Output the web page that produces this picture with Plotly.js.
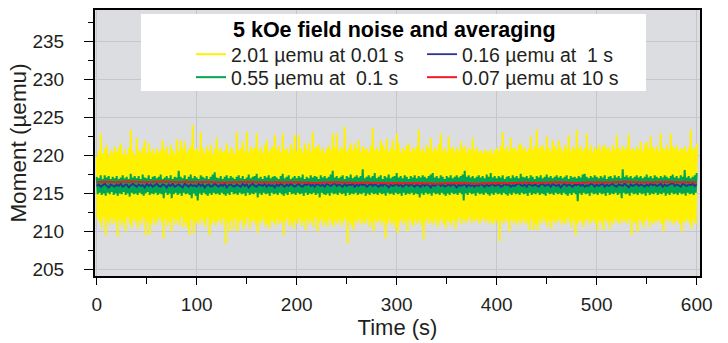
<!DOCTYPE html>
<html>
<head>
<meta charset="utf-8">
<script src="https://cdn.plot.ly/plotly-3.0.1.min.js"></script>
<style>html,body{margin:0;padding:0;background:#fff;}#chart{width:728px;height:343px;}</style>
</head>
<body>
<div id="chart"></div>
<script>
// ---- data ----
// Yellow (0.01 s sampling): per-column upper extremes at t = 0,2,...,600 s
const yellowHigh = [
219.8,220.6,222.9,220.2,220.9,221.4,220.0,220.7,220.3,221.2,
220.5,221.0,221.6,220.2,220.8,220.1,221.0,223.4,220.6,220.0,
222.3,220.7,220.4,221.1,222.0,220.3,221.6,220.5,220.9,220.2,
221.0,220.4,220.8,222.0,220.6,221.2,220.1,221.4,220.7,220.3,
222.1,220.6,222.0,220.9,221.8,220.4,220.8,221.3,224.0,220.7,
221.0,220.5,223.1,220.9,220.3,221.2,220.6,221.4,220.2,220.9,
222.3,220.6,221.0,220.4,220.7,221.6,220.3,221.1,220.8,220.2,
223.1,220.7,221.0,221.8,220.5,223.1,220.4,221.2,220.8,221.0,
222.9,220.6,221.1,220.3,221.4,222.0,220.5,220.9,221.2,222.7,
220.8,221.3,220.4,222.9,220.7,221.0,220.3,221.5,220.9,222.7,
220.6,222.7,221.0,220.4,221.6,220.8,221.6,220.5,223.1,220.9,
221.2,221.4,220.6,221.0,220.3,220.9,221.3,220.7,222.9,221.1,
222.9,220.6,221.2,220.8,223.8,220.5,221.0,221.6,220.7,221.6,
220.9,222.0,220.5,221.2,220.8,221.0,220.4,221.3,223.6,220.7,
221.1,220.6,222.0,221.4,220.8,222.2,220.5,221.0,222.0,220.7,
222.9,221.6,220.4,221.0,220.7,221.3,221.6,220.5,221.0,220.8,
221.2,223.4,220.6,221.0,220.4,221.4,220.9,222.3,220.6,221.1,
220.7,221.5,222.9,220.6,221.0,220.4,222.5,220.9,221.2,220.5,
221.0,220.6,221.8,220.9,221.3,220.4,221.0,220.8,222.3,220.6,
221.1,220.5,220.7,220.3,220.8,220.6,220.4,220.9,220.2,220.7,
221.0,220.6,221.3,223.1,220.8,221.2,220.5,222.3,220.9,221.0,
220.6,221.4,221.6,220.8,221.1,220.5,221.0,222.5,220.7,221.3,
223.4,220.9,221.2,221.4,220.7,222.5,221.0,220.6,222.0,221.3,
220.8,222.0,221.1,220.5,221.4,220.9,222.7,220.6,221.2,220.8,
223.4,220.9,221.3,220.6,221.0,222.9,220.7,221.4,220.5,221.1,
220.8,221.4,220.6,221.2,221.4,220.9,221.1,220.5,221.4,220.8,
222.7,221.0,220.6,221.3,220.8,221.1,222.8,220.7,221.0,220.6,
221.2,220.8,221.8,220.6,221.4,221.8,220.9,222.5,221.1,220.7,
221.3,220.6,222.9,221.0,220.8,221.4,220.7,222.9,221.2,220.9,
221.4,220.6,221.0,220.8,221.2,220.5,221.1,223.4,220.8,221.0,
221.6];
// Yellow: per-column lower extremes at t = 1,3,...,599 s
const yellowLow = [
211.7,211.2,210.6,211.9,209.5,211.4,210.9,211.8,211.0,211.5,
209.3,211.6,210.8,211.3,210.0,211.9,211.1,210.5,211.7,211.2,
210.4,211.5,210.9,211.8,209.5,211.3,209.6,211.0,211.7,210.8,
211.4,211.9,211.2,209.1,211.6,210.7,211.3,210.0,211.8,211.0,
211.5,210.8,211.9,210.5,211.2,210.5,209.5,211.6,209.8,211.1,
211.4,210.9,211.7,211.2,210.6,211.8,209.5,211.0,211.5,210.8,
211.3,211.6,210.9,211.8,208.4,211.2,210.0,211.5,210.3,211.7,
210.0,211.2,211.6,210.4,211.0,211.8,210.4,211.3,211.5,210.9,
209.8,211.4,211.1,211.7,210.6,211.0,210.4,211.5,211.2,210.8,
211.6,211.0,211.4,209.5,211.2,211.8,210.7,211.1,210.4,211.5,
211.0,211.7,210.8,211.3,210.2,211.6,211.0,211.4,210.6,211.9,
210.0,211.2,211.6,210.8,211.3,210.6,211.7,211.1,210.6,211.4,
211.0,211.6,210.7,211.3,211.8,208.4,211.2,210.9,210.2,211.5,
211.1,211.7,210.9,211.4,211.0,211.8,210.6,211.2,210.0,211.5,
211.2,211.6,210.8,211.4,209.1,211.0,211.7,210.9,211.3,210.4,
209.8,211.2,211.6,210.9,211.4,210.0,211.7,211.1,210.7,211.5,
211.0,211.6,210.8,209.0,211.3,211.7,211.0,211.4,210.9,211.6,
210.6,211.2,211.7,211.0,210.4,211.5,211.2,210.8,211.6,210.4,
211.3,211.8,211.0,211.6,211.2,211.4,211.9,211.1,211.6,211.3,
211.7,211.0,211.5,211.8,211.2,211.6,211.0,211.4,210.9,211.5,
211.2,208.7,211.5,211.0,211.7,211.3,210.0,211.6,211.1,211.4,
210.8,211.5,211.1,211.7,210.9,211.3,210.2,211.6,210.2,211.0,
210.2,211.5,211.0,211.7,211.2,210.6,211.4,210.4,211.6,211.1,
211.3,211.7,210.9,211.4,211.0,211.8,211.2,210.6,211.5,209.5,
211.0,211.6,211.2,210.6,211.4,211.7,210.9,211.3,211.6,211.0,
210.2,211.5,211.1,210.2,211.6,211.2,210.4,211.4,211.0,211.7,
211.3,211.0,211.6,211.2,211.5,211.0,211.7,209.5,211.3,211.1,
210.0,211.6,211.2,210.6,211.4,211.7,210.6,211.3,211.0,211.5,
211.2,211.6,211.0,210.0,211.4,211.7,211.2,211.5,210.9,211.3,
211.6,211.0,210.0,211.4,211.2,211.7,211.1,210.4,211.5,211.0];
// Green (0.1 s sampling): upper extremes at t = 0,2,...,600 s
const greenHigh = [
217.2,217.0,217.4,216.9,217.4,217.1,217.3,216.9,217.2,217.0,
217.3,216.9,217.1,217.4,217.0,217.2,216.9,217.6,217.1,217.3,
217.0,217.3,216.9,217.5,217.1,217.0,217.4,216.9,217.2,217.3,
217.0,217.2,217.5,216.9,217.1,217.3,217.0,217.4,216.9,217.2,
217.1,218.0,217.2,217.0,217.4,216.9,217.2,217.5,217.0,217.3,
217.1,216.9,217.4,217.2,217.0,217.3,216.9,217.2,217.5,217.8,
217.1,217.0,217.3,216.9,217.2,217.4,217.0,217.3,217.1,216.9,
217.2,217.4,217.0,217.3,216.9,217.1,217.5,217.0,217.2,217.3,
217.6,217.0,217.2,216.9,217.3,217.1,217.4,217.0,217.2,217.3,
217.1,216.9,217.3,217.6,217.0,217.2,217.4,216.9,217.1,217.3,
217.0,217.3,217.1,217.5,216.9,217.2,217.0,217.4,217.1,217.3,
217.2,216.9,217.4,217.1,217.3,217.0,217.2,217.5,218.0,217.1,
217.3,217.0,217.2,217.4,216.9,217.3,217.1,217.5,217.0,217.2,
217.4,217.1,217.3,218.2,217.0,217.2,217.4,217.1,217.3,217.7,
217.0,217.2,217.4,216.9,217.3,217.1,217.5,217.0,217.2,217.3,
217.7,217.1,217.3,217.0,217.4,217.2,216.9,217.3,217.1,217.4,
217.0,217.3,217.1,217.4,217.2,217.0,217.3,217.5,217.7,217.1,
217.3,217.0,217.4,217.2,216.9,217.3,217.1,217.4,217.0,217.2,
217.4,217.1,217.3,217.5,218.0,217.2,217.4,217.1,217.3,217.0,
217.2,217.4,217.1,217.3,217.0,217.5,217.2,217.7,217.1,217.3,
217.0,217.3,217.1,217.4,216.9,217.2,217.3,217.0,217.4,217.1,
217.3,217.0,217.6,217.2,217.1,217.3,217.0,217.4,217.2,216.9,
217.3,217.1,217.4,217.0,217.2,217.5,217.1,217.3,217.0,217.2,
217.4,217.1,217.3,217.0,217.2,217.4,216.9,217.3,217.1,217.2,
217.0,217.3,217.1,217.5,217.6,217.2,217.0,217.3,217.1,217.4,
217.2,217.0,217.3,217.1,217.4,216.9,217.2,217.3,217.0,217.4,
217.1,217.3,217.0,218.2,217.2,217.4,217.1,217.3,217.0,217.2,
217.4,217.1,217.3,217.0,217.2,217.5,217.1,217.3,217.0,217.4,
217.2,217.0,217.3,217.1,217.4,217.2,217.0,217.3,217.5,217.1,
217.3,217.0,217.4,217.2,218.1,217.1,217.3,217.0,217.2,217.4,
217.7];
// Green: lower extremes at t = 1,3,...,599 s
const greenLow = [
214.9,215.1,214.8,215.0,214.7,215.1,214.9,215.2,214.8,215.0,
214.7,215.0,214.9,215.2,214.8,215.0,214.6,215.1,214.9,215.0,
214.8,215.1,214.9,214.7,215.0,215.2,214.8,215.0,214.9,215.1,
214.8,215.0,214.9,214.4,215.1,214.8,215.0,214.4,214.9,215.1,
214.8,215.0,214.7,215.1,214.9,215.0,214.8,214.4,215.0,214.7,
214.1,215.0,214.8,215.1,214.9,214.7,215.0,214.8,215.1,214.9,
215.0,214.8,215.1,214.9,214.7,215.0,214.8,215.2,214.9,215.0,
214.8,215.1,214.9,215.0,214.7,215.1,214.8,215.0,214.9,215.1,
214.5,215.0,214.8,215.1,214.9,215.0,214.7,215.1,214.9,215.0,
214.8,215.1,214.9,214.7,215.0,214.8,215.2,214.9,215.0,214.8,
215.1,214.9,215.0,214.7,215.1,214.8,215.0,214.9,215.1,214.8,
215.0,214.5,215.1,214.9,214.8,215.0,214.7,215.1,214.9,215.0,
214.8,215.1,214.9,215.0,214.7,215.1,214.8,215.0,214.9,215.1,
214.8,215.0,214.9,215.1,214.7,215.0,214.8,215.1,214.9,215.0,
214.8,215.1,214.9,215.0,214.7,215.1,214.9,215.0,214.8,215.1,
214.9,215.0,214.7,215.1,214.8,215.0,214.9,215.1,214.8,215.0,
214.9,214.5,215.0,214.8,215.1,214.9,215.0,214.7,215.1,214.9,
215.0,214.8,215.1,214.9,214.7,215.0,214.8,215.1,214.9,215.0,
214.8,215.1,214.9,214.1,215.0,214.8,215.1,214.9,215.0,214.7,
215.1,214.9,215.0,214.8,215.1,214.9,214.7,215.0,214.8,215.1,
214.9,215.0,214.8,215.1,214.9,214.7,215.0,214.8,215.1,214.9,
215.0,214.8,215.1,214.9,215.0,214.7,215.1,214.8,215.0,214.9,
215.1,214.8,215.0,214.9,214.7,215.1,214.9,215.0,214.8,215.1,
214.9,215.0,214.8,215.1,214.9,214.7,215.0,214.8,215.1,214.9,
214.0,215.0,214.8,215.1,214.9,215.0,214.7,215.1,214.9,215.0,
214.8,215.1,214.9,215.0,214.7,215.1,214.8,215.0,214.9,215.1,
214.8,215.0,214.4,215.1,214.9,215.0,214.7,215.1,214.9,215.0,
214.8,215.1,214.9,215.0,214.7,215.1,214.8,215.0,214.9,215.1,
214.8,215.0,214.9,215.1,214.7,215.0,214.8,215.1,214.9,215.0,
214.8,215.1,214.9,215.0,214.7,215.1,214.9,215.0,214.8,215.1];
// Blue (1 s averaging): values at t = 0,2,...,600 s
const blueValues = [
216.0,216.2,215.9,216.1,216.3,216.0,215.8,216.2,216.1,215.9,
216.2,216.0,216.3,215.9,216.1,216.2,215.8,216.0,216.3,216.1,
215.9,216.2,216.0,216.1,215.8,216.3,216.0,216.2,215.9,216.1,
216.3,216.0,215.9,216.2,216.1,215.8,216.2,216.0,216.3,215.9,
216.1,216.2,216.0,215.8,216.3,216.1,215.9,216.2,216.0,216.1,
215.9,216.3,216.0,216.2,215.8,216.1,216.2,215.9,216.0,216.3,
216.1,215.9,216.2,216.0,216.3,215.8,216.1,216.2,216.0,215.9,
216.2,216.1,215.9,216.3,216.0,216.2,215.8,216.1,216.3,216.0,
215.9,216.2,216.1,216.0,216.3,215.9,216.2,216.0,216.1,215.8,
216.2,216.0,216.3,216.1,215.9,216.2,216.0,216.3,216.1,215.9,
216.1,216.3,216.0,215.9,216.2,216.1,216.4,216.0,216.2,215.9,
216.3,216.1,216.0,216.2,215.9,216.3,216.1,216.0,216.2,216.4,
216.0,216.2,216.1,215.9,216.3,216.0,216.2,216.1,216.3,215.9,
216.2,216.0,216.3,216.1,216.2,215.9,216.1,216.3,216.0,216.2,
216.1,215.9,216.2,216.0,216.3,216.1,215.8,216.2,216.0,216.1,
216.3,216.0,216.2,215.9,216.1,216.3,216.0,216.2,216.1,215.9,
216.2,216.1,215.9,216.3,216.0,216.2,216.1,215.8,216.2,216.0,
216.1,216.3,216.0,216.2,215.9,216.1,216.2,216.0,216.3,216.1,
215.8,216.2,216.0,216.1,216.3,215.9,216.2,216.0,216.1,215.9,
216.2,216.0,216.3,216.1,215.9,216.2,216.0,216.1,216.3,216.0,
216.1,216.2,215.9,216.0,216.3,216.1,216.2,215.9,216.1,216.0,
216.2,216.4,216.1,216.0,216.2,215.9,216.3,216.1,216.0,216.2,
216.1,215.9,216.2,216.3,216.0,216.1,216.2,215.9,216.3,216.1,
216.0,216.2,215.8,216.1,216.3,216.0,216.2,216.1,215.9,216.2,
216.1,216.3,216.0,216.2,215.9,216.1,216.0,216.3,216.2,215.9,
216.2,216.0,216.1,216.3,215.9,216.2,216.0,216.1,216.3,216.0,
215.9,216.2,216.1,216.0,216.3,216.1,215.8,216.2,216.0,216.1,
216.3,216.0,216.2,216.1,215.9,216.2,216.0,216.3,216.1,216.2,
216.0,216.1,216.3,215.9,216.2,216.0,216.1,216.2,216.4,216.0,
216.2,216.1,215.9,216.3,216.1,216.0,216.2,216.1,216.3,216.0,
216.2];
// Red (10 s averaging): values at t = 0,10,...,600 s
const redValues = [
216.5,216.55,216.5,216.6,216.55,216.5,216.55,216.6,216.5,216.55,
216.5,216.55,216.5,216.45,216.5,216.55,216.5,216.45,216.5,216.45,
216.5,216.45,216.4,216.45,216.5,216.45,216.4,216.45,216.4,216.35,
216.4,216.35,216.4,216.35,216.3,216.35,216.4,216.35,216.3,216.35,
216.4,216.35,216.4,216.45,216.4,216.45,216.5,216.45,216.4,216.45,
216.5,216.45,216.5,216.55,216.5,216.45,216.5,216.55,216.5,216.5,
216.5];
const seriesNames = ['2.01 µemu at 0.01 s','0.55 µemu at  0.1 s','0.16 µemu at  1 s','0.07 µemu at 10 s'];
const seriesColors = ['#fff200','#00a651','#2e3192','#ed1c24'];
const xTickVals = [0,100,200,300,400,500,600];
const yTickVals = [205,210,215,220,225,230,235];
const legendTitle = '5 kOe field noise and averaging';
const xTitle = 'Time (s)';
const yTitle = 'Moment (µemu)';

// interleave upper/lower extremes into one time-ordered trace
function interleave(high, low) {
  const x = [], y = [];
  for (let i = 0; i < high.length; i++) {
    x.push(2 * i); y.push(high[i]);
    if (i < low.length) { x.push(2 * i + 1); y.push(low[i]); }
  }
  return {x, y};
}
const yel = interleave(yellowHigh, yellowLow);
const grn = interleave(greenHigh, greenLow);
const blueT = blueValues.map((v, i) => 2 * i);
const redT = redValues.map((v, i) => 10 * i);

const FONT = 'Liberation Sans, Arial, Helvetica, sans-serif';
const TXT = '#231f20';

const traces = [
  {x: yel.x, y: yel.y, name: seriesNames[0], type: 'scatter', mode: 'lines',
   line: {color: seriesColors[0], width: 2}, legend: 'legend', legendrank: 1, hoverinfo: 'skip'},
  {x: grn.x, y: grn.y, name: seriesNames[1], type: 'scatter', mode: 'lines',
   line: {color: seriesColors[1], width: 2}, legend: 'legend2', legendrank: 1, hoverinfo: 'skip'},
  {x: blueT, y: blueValues, name: seriesNames[2], type: 'scatter', mode: 'lines',
   line: {color: seriesColors[2], width: 1.8}, legend: 'legend', legendrank: 2, hoverinfo: 'skip'},
  {x: redT, y: redValues, name: seriesNames[3], type: 'scatter', mode: 'lines',
   line: {color: seriesColors[3], width: 2}, legend: 'legend2', legendrank: 2, hoverinfo: 'skip'}
];

const H = 266, TOP = 10, LEFT = 95, W = 605;
const py = p => (TOP + H - p) / H;   // pixel y -> paper
const px = p => (p - LEFT) / W;      // pixel x -> paper

const legendBase = {
  orientation: 'h', xanchor: 'left', yanchor: 'top',
  bgcolor: 'rgba(0,0,0,0)', borderwidth: 0,
  entrywidth: 186, entrywidthmode: 'pixels',
  font: {size: 19.5, family: FONT, color: TXT},
  traceorder: 'normal', itemclick: false, itemdoubleclick: false
};

const layout = {
  width: 728, height: 343,
  margin: {l: LEFT, r: 28, t: TOP, b: 67, pad: 0},
  paper_bgcolor: '#ffffff',
  plot_bgcolor: '#dcdde0',
  font: {family: FONT, color: TXT, size: 19},
  showlegend: true,
  xaxis: {
    range: [-1.7, 603.3], tickvals: xTickVals, ticktext: xTickVals.map(String),
    showline: true, mirror: true, linecolor: '#000', linewidth: 2,
    ticks: 'outside', ticklen: 7, tickwidth: 1.2, tickcolor: '#000',
    showgrid: true, gridcolor: '#c6c7ca', gridwidth: 1.5, zeroline: false,
    tickfont: {size: 19, family: FONT, color: TXT},
    ticklabelstandoff: 3,
    minor: {dtick: 50, ticks: 'outside', ticklen: 6, tickwidth: 1.2, tickcolor: '#000', showgrid: false},
    title: {text: xTitle, font: {size: 22, family: FONT, color: TXT}, standoff: 6}
  },
  yaxis: {
    range: [204.15, 239.15], tickvals: yTickVals, ticktext: yTickVals.map(String),
    showline: true, mirror: true, linecolor: '#000', linewidth: 2,
    ticks: 'outside', ticklen: 9, tickwidth: 1.2, tickcolor: '#000',
    showgrid: true, gridcolor: '#c6c7ca', gridwidth: 1.5, zeroline: false,
    tickfont: {size: 19, family: FONT, color: TXT},
    ticklabelstandoff: 16,
    minor: {tick0: 205, dtick: 2.5, ticks: 'outside', ticklen: 5, tickwidth: 1.2, tickcolor: '#000', showgrid: false},
    title: {text: yTitle, font: {size: 22.5, family: FONT, color: TXT}, standoff: 0}
  },
  shapes: [{
    type: 'rect', xref: 'paper', yref: 'paper', layer: 'above',
    x0: px(141), x1: px(646), y0: py(91), y1: py(14),
    fillcolor: '#ffffff', line: {width: 0}
  }],
  annotations: [{
    xref: 'paper', yref: 'paper', x: px(394), y: py(30), xanchor: 'center', yanchor: 'middle',
    text: '<b>' + legendTitle + '</b>', showarrow: false,
    font: {size: 21.5, family: FONT, color: '#000'}
  }],
  legend: Object.assign({}, legendBase, {x: px(191), y: py(35)}),
  legend2: Object.assign({}, legendBase, {x: px(191), y: py(58)})
};

Plotly.newPlot('chart', traces, layout, {staticPlot: true, displayModeBar: false});
</script>
</body>
</html>
